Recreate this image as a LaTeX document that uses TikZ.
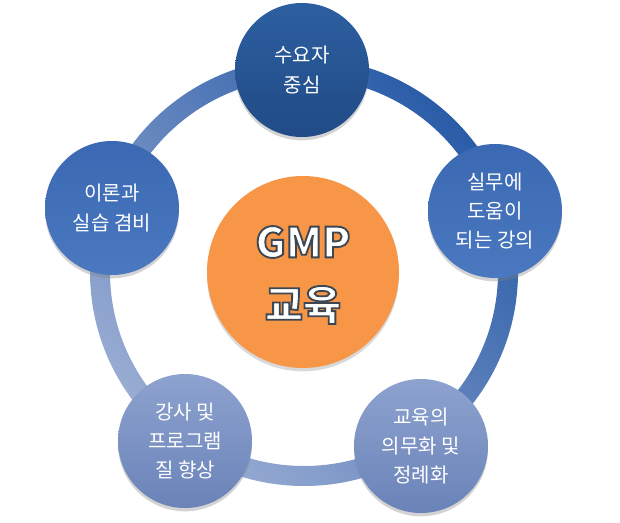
\documentclass[tikz,border=0pt]{standalone}
\usepackage{fontspec}
\setmainfont{Noto Sans CJK KR}
\usetikzlibrary{shadows}
\definecolor{ringdark}{HTML}{2A5CA8}
\definecolor{ringlight}{HTML}{9AADD3}
\definecolor{navyT}{HTML}{2D5FA0}
\definecolor{navyB}{HTML}{204B86}
\definecolor{midT}{HTML}{3A68B2}
\definecolor{midB}{HTML}{4B79C0}
\definecolor{lightT}{HTML}{8DA2CF}
\definecolor{lightB}{HTML}{6A83B8}
\definecolor{orangefill}{HTML}{F79646}
\newcommand\outl[1]{\special{pdf:literal direct 2 Tr 1.4 w 0.24 0.28 0.33 RG}#1\special{pdf:literal direct 0 Tr}}
\tikzset{
  bub/.style={circle, minimum size=100.5pt, inner sep=0pt, text=white, align=center,
    font=\fontsize{15}{22}\selectfont,
    drop shadow={opacity=0.35, shadow xshift=0pt, shadow yshift=-2.5pt}},
  navy/.style={bub, top color=navyT, bottom color=navyB},
  mid/.style={bub, top color=midT, bottom color=midB},
  light/.style={bub, top color=lightT, bottom color=lightB},
  core/.style={circle, minimum size=144pt, inner sep=0pt, fill=orangefill,
    drop shadow={opacity=0.3, shadow xshift=0pt, shadow yshift=-2.5pt}},
  big/.style={font=\fontsize{31}{33}\selectfont\bfseries, inner sep=0pt, text=white},
}
\begin{document}
\begin{tikzpicture}[x=0.75pt,y=0.75pt]
\useasboundingbox (0,0) rectangle (620,522);
\coordinate (c) at (304,250);
% ring
\shade[even odd rule, top color=ringdark, bottom color=ringlight, shading angle=-45]
  (c) circle (214) (c) circle (194);
% center
\node[core] (core) at (303,250) {};
\node[big] (gmpt) at (303,280) {\outl{GMP}};
\node[big] (edut) at (303,217) {\outl{교육}};
% satellites
\node[navy] (top) at (302,452) {수요자\\중심};
\node[mid] (right) at (495,311) {실무에\\도움이\\되는 강의};
\node[mid] (left) at (112,314) {이론과\\실습 겸비};
\node[light] (bl) at (185,81) {강사 및\\프로그램\\질 향상};
\node[light] (br) at (421,76) {교육의\\의무화 및\\정례화};
\end{tikzpicture}
\end{document}
